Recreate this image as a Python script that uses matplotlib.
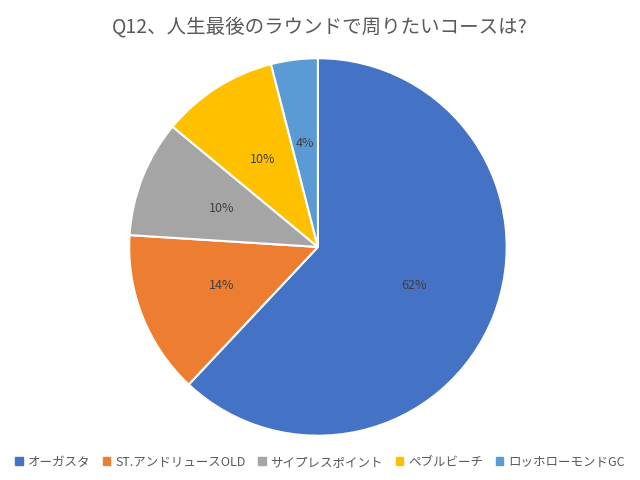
import numpy as np
import matplotlib.pyplot as plt
from matplotlib.patches import Patch

plt.rcParams["font.family"] = "Noto Sans CJK JP"

labels = ["オーガスタ", "ST.アンドリュースOLD", "サイプレスポイント", "ペブルビーチ", "ロッホローモンドGC"]
values = [62, 14, 10, 10, 4]
colors = ["#4472C4", "#ED7D31", "#A5A5A5", "#FFC000", "#5B9BD5"]

fig = plt.figure(figsize=(6.4, 4.8), dpi=100)
ax = fig.add_axes([0.128, -0.006, 0.7375, 0.983])
wedges, texts = ax.pie(values, colors=colors, startangle=90, counterclock=False,
                       wedgeprops=dict(edgecolor="white", linewidth=1.5))
for w, v in zip(wedges, values):
    ang = np.deg2rad((w.theta1 + w.theta2) / 2)
    ax.text(0.55 * np.cos(ang), 0.55 * np.sin(ang), f"{v}%", ha="center", va="center",
            fontsize=9, color="#404040")
ax.set_aspect("equal")
fig.suptitle("Q12、人生最後のラウンドで周りたいコースは?", y=0.965, fontsize=14, color="#595959")
handles = [Patch(color=c) for c in colors]
fig.legend(handles, labels, loc="lower center", ncol=5, frameon=False, fontsize=9,
           handlelength=0.6, handleheight=0.6, columnspacing=1.0, handletextpad=0.4,
           labelcolor="#595959", bbox_to_anchor=(0.5, 0.0))
fig.savefig("out.png", dpi=100)
